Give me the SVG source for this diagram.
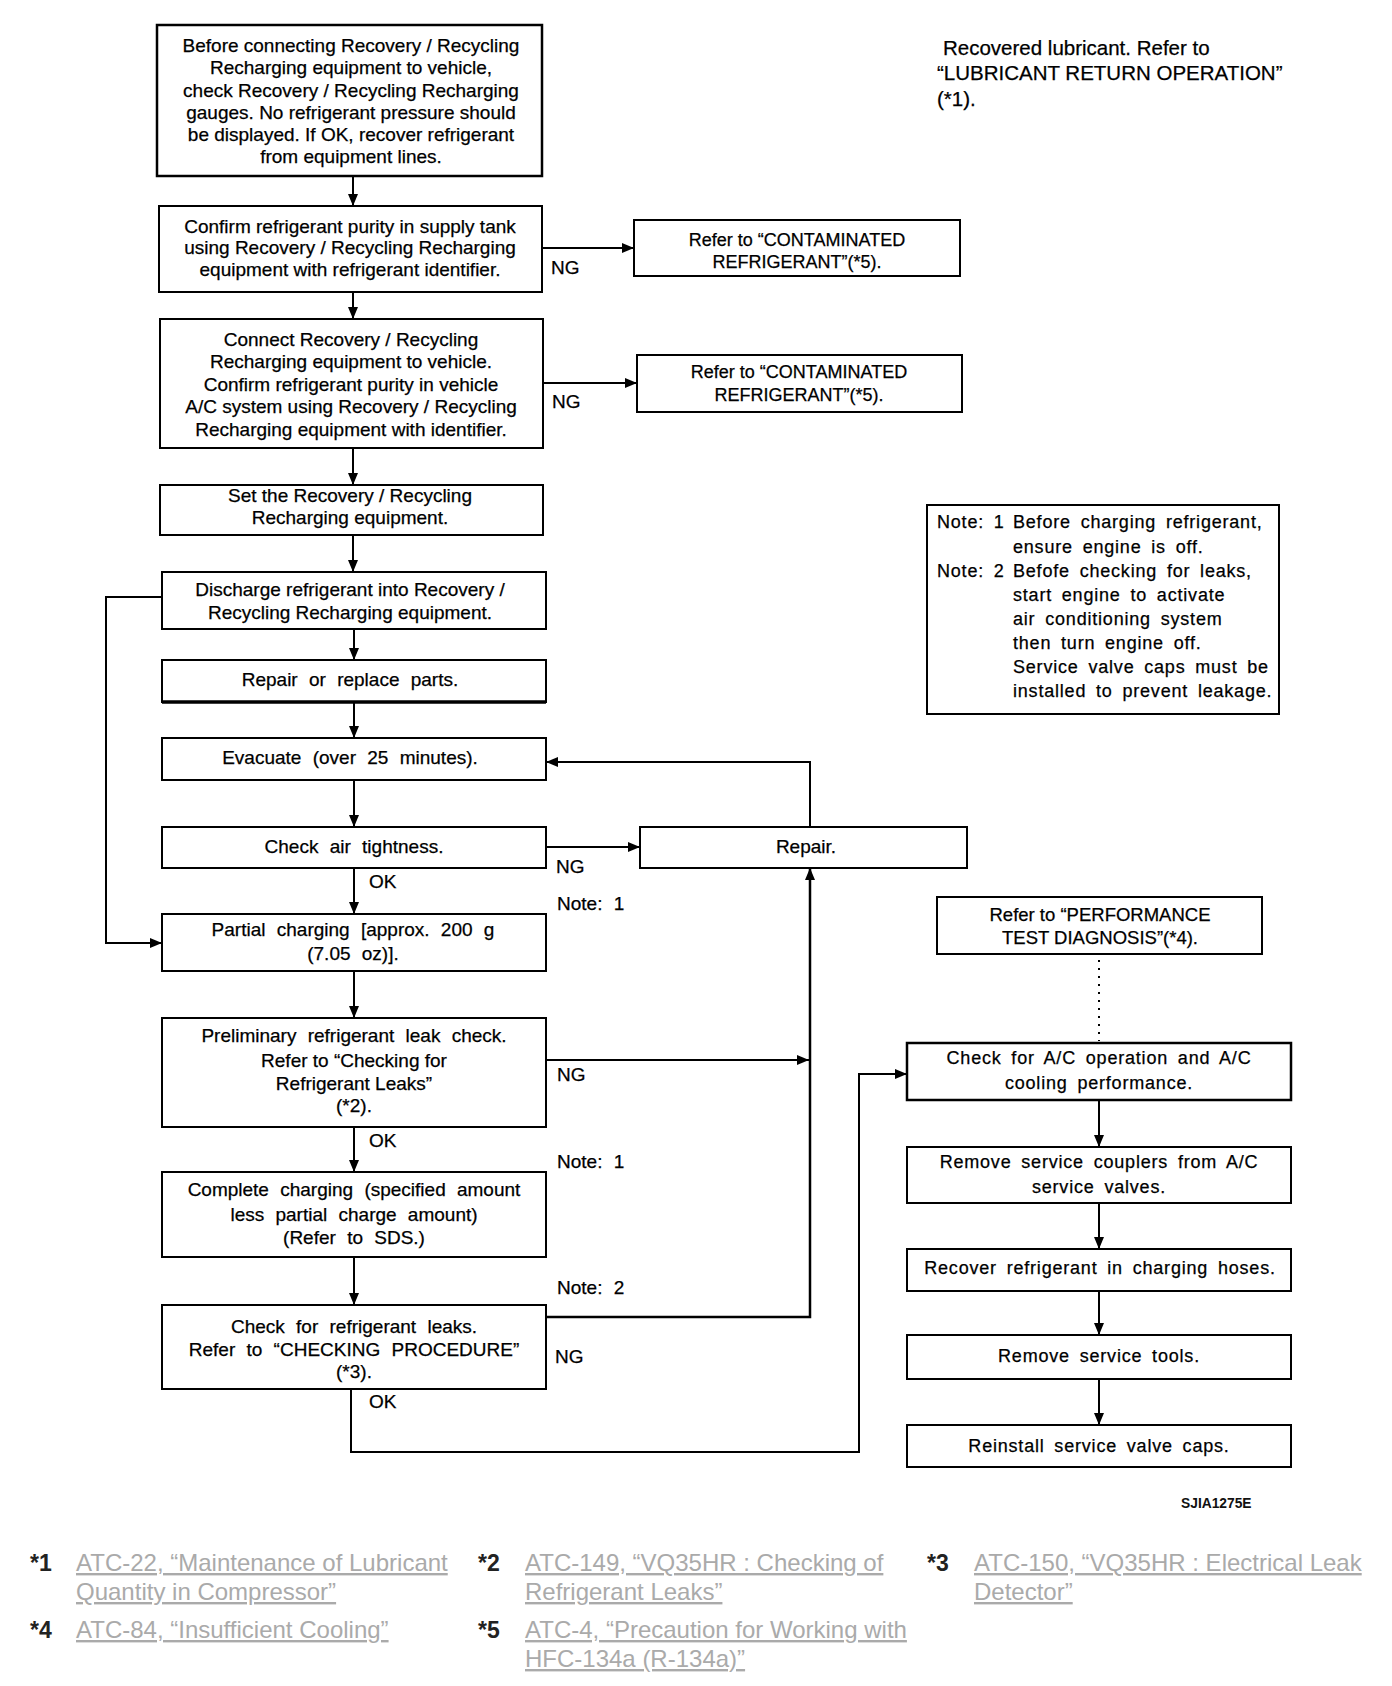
<svg xmlns="http://www.w3.org/2000/svg" width="1392" height="1686" viewBox="0 0 1392 1686">
<style>
.b{fill:#fff;stroke:#000;stroke-width:2}
.t{font-family:"Liberation Sans",Arial,sans-serif;font-size:19px;fill:#000;stroke:#000;stroke-width:0.25;text-anchor:middle}
.tw{word-spacing:6px}
.tr{font-size:18px;letter-spacing:0.8px;word-spacing:4px}
.s{text-anchor:start}
.c{fill:none;stroke:#000;stroke-width:2}
.d{fill:none;stroke:#000;stroke-width:2;stroke-dasharray:2 6}
.fn{font-family:"Liberation Sans",Arial,sans-serif;font-size:24px;fill:#aaa;text-decoration:underline}
.fk{font-family:"Liberation Sans",Arial,sans-serif;font-size:23px;font-weight:bold;fill:#222}
</style>
<defs>
<marker id="a" viewBox="0 0 12 10" refX="12" refY="5" markerWidth="12" markerHeight="10" markerUnits="userSpaceOnUse" orient="auto"><path d="M0,0 L12,5 L0,10 z" fill="#000"/></marker>
</defs>
<rect width="1392" height="1686" fill="#fff"/>

<g id="connectors">
<path class="c" d="M353,176 V206" marker-end="url(#a)"/>
<path class="c" d="M353,292 V319" marker-end="url(#a)"/>
<path class="c" d="M353,448 V485" marker-end="url(#a)"/>
<path class="c" d="M353,535 V572" marker-end="url(#a)"/>
<path class="c" d="M354,629 V660" marker-end="url(#a)"/>
<path class="c" d="M354,702 V738" marker-end="url(#a)"/>
<path class="c" d="M354,780 V827" marker-end="url(#a)"/>
<path class="c" d="M354,868 V914" marker-end="url(#a)"/>
<path class="c" d="M354,971 V1018" marker-end="url(#a)"/>
<path class="c" d="M354,1127 V1172" marker-end="url(#a)"/>
<path class="c" d="M354,1257 V1305" marker-end="url(#a)"/>
<path class="c" d="M542,248 H634" marker-end="url(#a)"/>
<path class="c" d="M543,383 H637" marker-end="url(#a)"/>
<path class="c" d="M546,847 H640" marker-end="url(#a)"/>
<path class="c" d="M810,827 V762 H546" marker-end="url(#a)"/>
<path class="c" d="M162,597 H106 V943 H162" marker-end="url(#a)"/>
<path class="c" d="M546,1060 H809" marker-end="url(#a)"/>
<path class="c" d="M546,1317 H810 V868" marker-end="url(#a)" style="stroke-width:2.5"/>
<path class="c" d="M351,1389 V1452 H859 V1074 H907" marker-end="url(#a)"/>
<path class="d" d="M1099,960 V1041"/>
<path class="c" d="M1099,1100 V1147" marker-end="url(#a)"/>
<path class="c" d="M1099,1203 V1249" marker-end="url(#a)"/>
<path class="c" d="M1099,1291 V1335" marker-end="url(#a)"/>
<path class="c" d="M1099,1379 V1425" marker-end="url(#a)"/>
<text class="t s" x="551" y="274">NG</text>
<text class="t s" x="552" y="408">NG</text>
<text class="t s" x="556" y="873">NG</text>
<text class="t s" x="557" y="1081">NG</text>
<text class="t s" x="555" y="1363">NG</text>
<text class="t s" x="369" y="888">OK</text>
<text class="t s" x="369" y="1147">OK</text>
<text class="t s" x="369" y="1408">OK</text>
<text class="t s tw" x="557" y="910">Note: 1</text>
<text class="t s tw" x="557" y="1168">Note: 1</text>
<text class="t s tw" x="557" y="1294">Note: 2</text>
</g>

<g id="n1">
<rect class="b" x="157" y="25" width="385" height="151" style="stroke-width:2.5"/>
<text class="t" x="351" y="52">Before connecting Recovery / Recycling</text>
<text class="t" x="351" y="74">Recharging equipment to vehicle,</text>
<text class="t" x="351" y="96.5">check Recovery / Recycling Recharging</text>
<text class="t" x="351" y="118.5">gauges. No refrigerant pressure should</text>
<text class="t" x="351" y="141">be displayed. If OK, recover refrigerant</text>
<text class="t" x="351" y="163">from equipment lines.</text>
</g>
<g id="n2">
<rect class="b" x="159" y="206" width="383" height="86"/>
<text class="t" x="350" y="232.5">Confirm refrigerant purity in supply tank</text>
<text class="t" x="350" y="254">using Recovery / Recycling Recharging</text>
<text class="t" x="350" y="276">equipment with refrigerant identifier.</text>
</g>
<g id="n3">
<rect class="b" x="160" y="319" width="383" height="129"/>
<text class="t" x="351" y="346">Connect Recovery / Recycling</text>
<text class="t" x="351" y="368">Recharging equipment to vehicle.</text>
<text class="t" x="351" y="390.5">Confirm refrigerant purity in vehicle</text>
<text class="t" x="351" y="413">A/C system using Recovery / Recycling</text>
<text class="t" x="351" y="435.5">Recharging equipment with identifier.</text>
</g>
<g id="n4">
<rect class="b" x="634" y="220" width="326" height="56"/>
<text class="t" x="797" y="246" style="font-size:18px">Refer to “CONTAMINATED</text>
<text class="t" x="797" y="268" style="font-size:18px">REFRIGERANT”(*5).</text>
</g>
<g id="n5">
<rect class="b" x="637" y="355" width="325" height="57"/>
<text class="t" x="799" y="378" style="font-size:18px">Refer to “CONTAMINATED</text>
<text class="t" x="799" y="401" style="font-size:18px">REFRIGERANT”(*5).</text>
</g>
<g id="n6">
<rect class="b" x="160" y="485" width="383" height="50"/>
<text class="t" x="350" y="502">Set the Recovery / Recycling</text>
<text class="t" x="350" y="523.5">Recharging equipment.</text>
</g>
<g id="n7">
<rect class="b" x="162" y="572" width="384" height="57"/>
<text class="t" x="350" y="596">Discharge refrigerant into Recovery /</text>
<text class="t" x="350" y="619">Recycling Recharging equipment.</text>
</g>
<g id="n8">
<rect class="b" x="162" y="660" width="384" height="42"/>
<line x1="162" y1="702" x2="546" y2="702" stroke="#000" stroke-width="3.5"/>
<text class="t tw" x="350" y="686">Repair or replace parts.</text>
</g>
<g id="n9">
<rect class="b" x="162" y="738" width="384" height="42"/>
<text class="t tw" x="350" y="764">Evacuate (over 25 minutes).</text>
</g>
<g id="n10">
<rect class="b" x="162" y="827" width="384" height="41"/>
<text class="t tw" x="354" y="853">Check air tightness.</text>
</g>
<g id="n11">
<rect class="b" x="640" y="827" width="327" height="41"/>
<text class="t" x="806" y="853">Repair.</text>
</g>
<g id="n12">
<rect class="b" x="162" y="914" width="384" height="57"/>
<text class="t tw" x="353" y="936">Partial charging [approx. 200 g</text>
<text class="t tw" x="353" y="960">(7.05 oz)].</text>
</g>
<g id="n13">
<rect class="b" x="162" y="1018" width="384" height="109"/>
<text class="t tw" x="354" y="1042">Preliminary refrigerant leak check.</text>
<text class="t" x="354" y="1067">Refer to “Checking for</text>
<text class="t" x="354" y="1089.5">Refrigerant Leaks”</text>
<text class="t" x="354" y="1112">(*2).</text>
</g>
<g id="n14">
<rect class="b" x="162" y="1172" width="384" height="85"/>
<text class="t tw" x="354" y="1196">Complete charging (specified amount</text>
<text class="t tw" x="354" y="1221">less partial charge amount)</text>
<text class="t tw" x="354" y="1244">(Refer to SDS.)</text>
</g>
<g id="n15">
<rect class="b" x="162" y="1305" width="384" height="84"/>
<text class="t tw" x="354" y="1333">Check for refrigerant leaks.</text>
<text class="t tw" x="354" y="1355.5">Refer to “CHECKING PROCEDURE”</text>
<text class="t tw" x="354" y="1378">(*3).</text>
</g>
<g id="n16">
<text class="t s" x="943" y="55" style="font-size:20.5px">Recovered lubricant. Refer to</text>
<text class="t s" x="937" y="80" style="font-size:20.5px">“LUBRICANT RETURN OPERATION”</text>
<text class="t s" x="937" y="106" style="font-size:20.5px">(*1).</text>
</g>
<g id="n17">
<rect class="b" x="927" y="505" width="352" height="209"/>
<text class="t tr s" x="937" y="528">Note: 1</text>
<text class="t tr s" x="1013" y="528">Before charging refrigerant,</text>
<text class="t tr s" x="1013" y="552.5">ensure engine is off.</text>
<text class="t tr s" x="937" y="576.5">Note: 2</text>
<text class="t tr s" x="1013" y="576.5">Befofe checking for leaks,</text>
<text class="t tr s" x="1013" y="600.5">start engine to activate</text>
<text class="t tr s" x="1013" y="624.5">air conditioning system</text>
<text class="t tr s" x="1013" y="649">then turn engine off.</text>
<text class="t tr s" x="1013" y="672.5">Service valve caps must be</text>
<text class="t tr s" x="1013" y="697">installed to prevent leakage.</text>
</g>
<g id="n18">
<rect class="b" x="937" y="897" width="325" height="57"/>
<text class="t" x="1100" y="921" style="font-size:18.5px">Refer to “PERFORMANCE</text>
<text class="t" x="1100" y="944" style="font-size:18.5px">TEST DIAGNOSIS”(*4).</text>
</g>
<g id="n19">
<rect class="b" x="907" y="1043" width="384" height="57" style="stroke-width:2.5"/>
<text class="t tr" x="1099" y="1064">Check for A/C operation and A/C</text>
<text class="t tr" x="1099" y="1089">cooling performance.</text>
</g>
<g id="n20">
<rect class="b" x="907" y="1147" width="384" height="56"/>
<text class="t tr" x="1099" y="1168">Remove service couplers from A/C</text>
<text class="t tr" x="1099" y="1192.5">service valves.</text>
</g>
<g id="n21">
<rect class="b" x="907" y="1249" width="384" height="42"/>
<text class="t tr" x="1100" y="1274">Recover refrigerant in charging hoses.</text>
</g>
<g id="n22">
<rect class="b" x="907" y="1335" width="384" height="44"/>
<text class="t tr" x="1099" y="1362">Remove service tools.</text>
</g>
<g id="n23">
<rect class="b" x="907" y="1425" width="384" height="42"/>
<text class="t tr" x="1099" y="1451.5">Reinstall service valve caps.</text>
</g>
<text x="1181" y="1508" style="font-family:'Liberation Sans',Arial,sans-serif;font-size:13.8px;font-weight:bold;fill:#111">SJIA1275E</text>

<g id="footnotes">
<text class="fk" x="30" y="1571">*1</text>
<text class="fn" x="76" y="1571">ATC-22, “Maintenance of Lubricant</text>
<text class="fn" x="76" y="1600">Quantity in Compressor”</text>
<text class="fk" x="478" y="1571">*2</text>
<text class="fn" x="525" y="1571">ATC-149, “VQ35HR : Checking of</text>
<text class="fn" x="525" y="1600">Refrigerant Leaks”</text>
<text class="fk" x="927" y="1571">*3</text>
<text class="fn" x="974" y="1571">ATC-150, “VQ35HR : Electrical Leak</text>
<text class="fn" x="974" y="1600">Detector”</text>
<text class="fk" x="30" y="1638">*4</text>
<text class="fn" x="76" y="1638">ATC-84, “Insufficient Cooling”</text>
<text class="fk" x="478" y="1638">*5</text>
<text class="fn" x="525" y="1638">ATC-4, “Precaution for Working with</text>
<text class="fn" x="525" y="1667">HFC-134a (R-134a)”</text>
</g>
</svg>
